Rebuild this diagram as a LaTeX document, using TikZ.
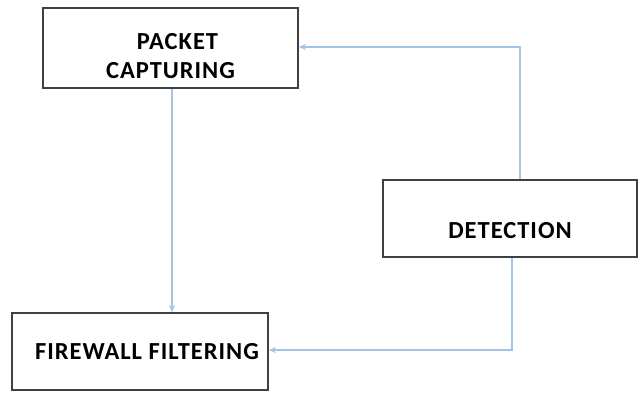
\documentclass[tikz,border=0pt]{standalone}
\usepackage{fontspec}
\setmainfont{Carlito}[LetterSpace=4]
\usetikzlibrary{arrows.meta}
\tikzset{
  box/.style={draw=black!75, line width=1.8pt, fill=white, inner sep=0pt, font=\bfseries\fontsize{24.5}{29}\selectfont, align=center},
  conn/.style={draw={rgb,255:red,165;green,195;blue,228}, line width=1.6pt, -{Stealth[length=7pt,width=6pt]}}
}
\begin{document}
\begin{tikzpicture}[x=1pt,y=-1pt]
\useasboundingbox (0,0) rectangle (643,393);
\node[box, minimum width=255pt, minimum height=80pt] (pc) at (170.5,48) {\raisebox{-14pt}[0pt][0pt]{\parbox{220pt}{\centering\hspace*{14pt}PACKET\\CAPTURING}}};
\node[box, minimum width=254pt, minimum height=77pt] (det) at (510,218.5) {\raisebox{-20pt}[0pt][0pt]{DETECTION}};
\node[box, minimum width=256pt, minimum height=77pt] (fw) at (140,351.5) {\hspace*{14pt}FIREWALL FILTERING};
\coordinate (c1) at (520,47);
\coordinate (c2) at (512,350);
\draw[conn] (pc.south -| 172,0) -- (fw.north -| 172,0);
\draw[conn] (det.north -| c1) -- (c1) -- (pc.east |- c1);
\draw[conn] (det.south -| c2) -- (c2) -- (fw.east |- c2);
\end{tikzpicture}
\end{document}
